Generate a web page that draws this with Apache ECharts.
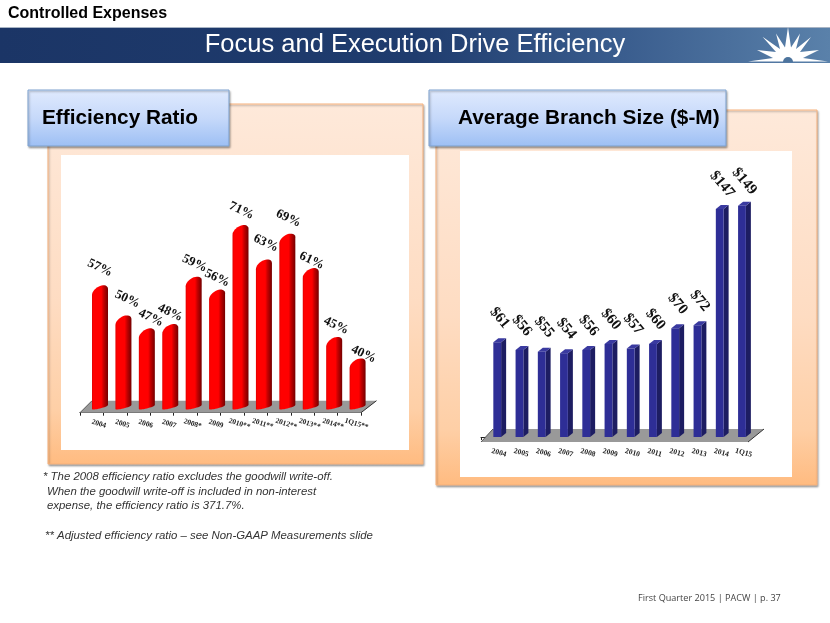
<!DOCTYPE html>
<html>
<head>
<meta charset="utf-8">
<style>html,body{margin:0;padding:0;background:#fff}#c{width:830px;height:623px}</style>
<script src="https://cdn.jsdelivr.net/npm/echarts@6/dist/echarts.min.js"></script>
</head>
<body>
<div id="c"></div>
<script>
const effCategories = ['2004','2005','2006','2007','2008*','2009','2010**','2011**','2012**','2013**','2014**','1Q15**'];
const effValues = [57,50,47,48,59,56,71,63,69,61,45,40];
const branchCategories = ['2004','2005','2006','2007','2008','2009','2010','2011','2012','2013','2014','1Q15'];
const branchValues = [61,56,55,54,56,60,57,60,70,72,147,149];

// label nudges relative to each bar top (style only, not data)
const effNudgeX = [0,4,4,0,1,0,1,2,1,1,2,6];
const effNudgeY = [-27,-26,-20,-21,-23,-21,-24,-26,-25,-17,-21,-14];

const serif = '"Liberation Serif","Times New Roman",serif';
const sans = '"Liberation Sans",Arial,sans-serif';

function hGrad(stops){return {type:'linear',x:0,y:0,x2:1,y2:0,colorStops:stops.map(s=>({offset:s[0],color:s[1]}))};}
function vGrad(stops){return {type:'linear',x:0,y:0,x2:0,y2:1,colorStops:stops.map(s=>({offset:s[0],color:s[1]}))};}

const redGrad = hGrad([[0,'#e00000'],[0.1,'#ff0000'],[0.58,'#ff0000'],[0.72,'#c80000'],[1,'#740000']]);

function floorItem(depthX, depthXR, depthY, drop){
  return function(params, api){
    const g = params.coordSys;
    const yf = g.y + g.height + drop, yb = yf - depthY;
    const xl = g.x, xr = g.x + g.width;
    return {type:'group',children:[
      {type:'polygon',shape:{points:[[xl,yf],[xr,yf],[xr+depthXR,yb],[xl+depthX,yb]]},
       style:{fill:'#999999',stroke:null}},
      {type:'polyline',shape:{points:[[xl,yf],[xl+depthX,yb]]},style:{stroke:'#555',fill:null,lineWidth:1}},
      {type:'polyline',shape:{points:[[xr,yf],[xr+depthXR,yb]]},style:{stroke:'#333',fill:null,lineWidth:1}}
    ]};
  };
}

function cylinderItem(params, api){
  const i = api.value(0), v = api.value(1);
  const top = api.coord([i, v]);
  const base = api.coord([i, 30.5]);
  const w = 16, x0 = top[0] + 0.3;
  const pts = [];
  const N = 16;
  for(let k=0;k<=N;k++){ // top edge, left to right
    const t = (1-Math.cos(Math.PI*k/N))/2;
    pts.push([x0+w*t, top[1]-6*t-6*Math.sqrt(Math.max(0,1-(2*t-1)*(2*t-1)))]);
  }
  for(let k=N;k>=0;k--){ // bottom edge, right to left
    const t = (1-Math.cos(Math.PI*k/N))/2;
    pts.push([x0+w*t, base[1]-4*t+1.5*Math.sqrt(Math.max(0,1-(2*t-1)*(2*t-1)))]);
  }
  return {type:'group',children:[
    {type:'polygon',shape:{points:pts},style:{fill:redGrad,stroke:null}},
    {type:'text',x:top[0]+8.3+effNudgeX[i],y:top[1]+effNudgeY[i],rotation:-25*Math.PI/180,
     style:{text:v+'%',x:0,y:0,textAlign:'center',textVerticalAlign:'middle',
       font:'bold 13px '+serif,fill:'#111'}}
  ]};
}

function boxItem(params, api){
  const i = api.value(0), v = api.value(1);
  const top = api.coord([i, v]);
  const base = api.coord([i, 0]);
  const fw = 7.8, dx = 5, dy = 4;
  const x0 = top[0] + 1.2;
  return {type:'group',children:[
    {type:'polygon',shape:{points:[[x0+fw,top[1]],[x0+fw+dx,top[1]-dy],[x0+fw+dx,base[1]-dy],[x0+fw,base[1]]]},
     style:{fill:'#1d1d62'}},
    {type:'polygon',shape:{points:[[x0,top[1]],[x0+dx,top[1]-dy],[x0+fw+dx,top[1]-dy],[x0+fw,top[1]]]},
     style:{fill:'#3a3aa0'}},
    {type:'rect',shape:{x:x0,y:top[1],width:fw,height:base[1]-top[1]},style:{fill:'#2e2e96'}},
    {type:'text',x:top[0]+7.5,y:top[1]-24.5,rotation:-50*Math.PI/180,
     style:{text:'$'+v,x:0,y:0,textAlign:'center',textVerticalAlign:'middle',
       font:'bold 15px '+serif,fill:'#111'}}
  ]};
}

function panel(x,y,w,h,ix,iy,iw,ih){
  return [
    {type:'rect',shape:{x,y,width:w,height:h},
     style:{fill:vGrad([[0,'#fee9da'],[0.55,'#fedcc2'],[0.85,'#fecfa6'],[1,'#ffbb80']]),stroke:'#f8b27c',lineWidth:1,
       shadowBlur:2,shadowColor:'rgba(0,0,0,0.3)',shadowOffsetX:1,shadowOffsetY:1.5}},
    {type:'rect',shape:{x:ix,y:iy,width:iw,height:ih},style:{fill:'#fff'}}
  ];
}
function titleBox(x,y,w,h,label,tx){
  return [
    {type:'rect',shape:{x,y,width:w,height:h},
     style:{fill:vGrad([[0,'#e0eafe'],[0.5,'#c6d9fa'],[1,'#9dbff4']]),stroke:'#7ea3d0',lineWidth:1,
       shadowBlur:2,shadowColor:'rgba(0,0,0,0.3)',shadowOffsetX:1,shadowOffsetY:1.5}},
    {type:'text',x:tx,y:y+h/2,style:{text:label,font:'bold 20.8px '+sans,fill:'#000',textVerticalAlign:'middle'}}
  ];
}

const sunPts = [[748,61.5],[773,58],[757,50],[776,52],[762.5,36.7],[780,49],[776,33.5],[785,47.5],[788,27],[791,47.5],[800,33.5],[796,49],[811,37],[800,52],[819,50],[803,58],[828,61.5]];

const footnotes = [
  ['* The 2008 efficiency ratio excludes the goodwill write-off.',43,477],
  ['When the goodwill write-off is included in non-interest',47,491.5],
  ['expense, the efficiency ratio is 371.7%.',47,505.5],
  ['** Adjusted efficiency ratio \u2013 see Non-GAAP Measurements slide',45,535.5]
];

const graphics = [
  {type:'text',x:8,y:14,style:{text:'Controlled Expenses',font:'bold 16px '+sans,fill:'#000',textVerticalAlign:'middle'}},
  {type:'rect',shape:{x:0,y:27,width:830,height:36},
   style:{fill:hGrad([[0,'#1b3566'],[0.5,'#1f3c6e'],[0.75,'#3a5d8e'],[1,'#5a81aa']]),stroke:null}},
  {type:'rect',shape:{x:0,y:27,width:830,height:1},style:{fill:'#a8b4c4'}},
  {type:'text',x:415,y:44.5,style:{text:'Focus and Execution Drive Efficiency',font:'25.5px '+sans,fill:'#fff',textAlign:'center',textVerticalAlign:'middle'}},
  {type:'polygon',shape:{points:sunPts},style:{fill:'#fff'}},
  {type:'sector',shape:{cx:788,cy:62,r:5,r0:0,startAngle:Math.PI,endAngle:2*Math.PI},style:{fill:'#4d749d'}},
  ...panel(48,104,375,360,61,155,348,295),
  ...panel(436,110,381,375,460,151,332,326),
  ...titleBox(28,90,201,56,'Efficiency Ratio',42),
  ...titleBox(429,90,297,56,'Average Branch Size ($-M)',458),
  ...footnotes.map(f=>({type:'text',x:f[1],y:f[2],style:{text:f[0],font:'italic 11.4px '+sans,fill:'#333',textVerticalAlign:'middle'}})),
  {type:'text',x:638,y:598,style:{text:'First Quarter 2015 | PACW | p. 37',font:'9.1px "Open Sans",sans-serif',fill:'#444',textVerticalAlign:'middle'}}
];

const chart = echarts.init(document.getElementById('c'),null,{renderer:'canvas'});
chart.setOption({
  animation:false,
  backgroundColor:'#fff',
  graphic:{elements:graphics},
  grid:[
    {left:80,top:196,width:281,height:213,containLabel:false},
    {left:481,top:205,width:267,height:232,containLabel:false}
  ],
  xAxis:[
    {gridIndex:0,type:'category',data:effCategories,offset:3.7,
     axisLine:{lineStyle:{color:'#222',width:1}},axisTick:{show:true,length:3,lineStyle:{color:'#222'}},
     axisLabel:{interval:0,rotate:-17,align:'center',margin:9,padding:[0,0,0,15],fontFamily:'Liberation Serif',fontWeight:'bold',fontSize:7.4,color:'#222'}},
    {gridIndex:1,type:'category',data:branchCategories,offset:5,
     axisLine:{lineStyle:{color:'#222',width:1}},axisTick:{show:true,length:3,lineStyle:{color:'#222'}},
     axisLabel:{interval:0,rotate:-15,align:'center',margin:9,padding:[0,0,0,14],fontFamily:'Liberation Serif',fontWeight:'bold',fontSize:7.6,color:'#222'}}
  ],
  yAxis:[
    {gridIndex:0,type:'value',min:30.5,max:80,show:false,splitLine:{show:false}},
    {gridIndex:1,type:'value',min:0,max:149.5,show:false,splitLine:{show:false}}
  ],
  series:[
    {type:'custom',name:'floor1',xAxisIndex:0,yAxisIndex:0,z:1,silent:true,data:[[0,40]],encode:{x:0,y:1},renderItem:floorItem(12,15.5,12,3.7),clip:false},
    {type:'custom',name:'floor2',xAxisIndex:1,yAxisIndex:1,z:1,silent:true,data:[[0,0]],encode:{x:0,y:1},renderItem:floorItem(12,16,13,5),clip:false},
    {type:'custom',name:'Efficiency Ratio',xAxisIndex:0,yAxisIndex:0,z:3,data:effValues.map((v,i)=>[i,v]),encode:{x:0,y:1},renderItem:cylinderItem,clip:false},
    {type:'custom',name:'Average Branch Size',xAxisIndex:1,yAxisIndex:1,z:3,data:branchValues.map((v,i)=>[i,v]),encode:{x:0,y:1},renderItem:boxItem,clip:false}
  ]
});
</script>
</body>
</html>
